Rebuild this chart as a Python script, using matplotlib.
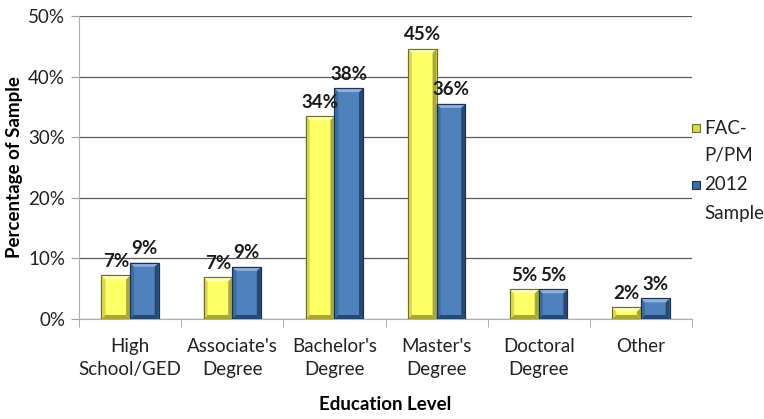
import matplotlib
matplotlib.use("Agg")
import matplotlib.pyplot as plt
from matplotlib.patches import Polygon, Rectangle
import numpy as np

plt.rcParams["font.family"] = ["Lato", "DejaVu Sans"]

categories = ["High\nSchool/GED", "Associate's\nDegree", "Bachelor's\nDegree",
              "Master's\nDegree", "Doctoral\nDegree", "Other"]
series_names = [["FAC-", "P/PM"], ["2012", "Sample"]]
fac_values = [7.2, 6.9, 33.5, 44.6, 4.9, 1.9]
sample_values = [9.3, 8.6, 38.1, 35.5, 4.9, 3.4]
y_ticks = [0, 10, 20, 30, 40, 50]

styles = [
    dict(face="#FFFF66", light="#FFFFB0", side="#D9D94A", dark="#A8A838", edge="#6E6E2A"),
    dict(face="#4F81BD", light="#8DB0DC", side="#3C6AA2", dark="#27496F", edge="#1C3350"),
]
FS = 13.5

fig = plt.figure(figsize=(7.64, 4.19), dpi=100)
ax = fig.add_axes([0.1034, 0.2387, 0.8024, 0.7231])

x = np.arange(len(categories))
bw = 0.28
ax.set_xlim(-0.5, len(categories) - 0.5)
ax.set_ylim(0, 50)

fig.canvas.draw()
bbox = ax.get_window_extent()
px_x = bbox.width / len(categories)
px_y = bbox.height / 50.0
bev = 4.0
bx, by = bev / px_x, bev / px_y

for i, (vals, st) in enumerate(zip([fac_values, sample_values], styles)):
    bars = ax.bar(x + (i - 0.5) * bw, vals, bw, color=st["face"],
                  edgecolor=st["edge"], linewidth=0.8, zorder=3)
    for b in bars:
        x0, y0, w, h = b.get_x(), b.get_y(), b.get_width(), b.get_height()
        x1, y1 = x0 + w, y0 + h
        tb = min(by, h / 2)
        polys = [
            ([(x0, y0), (x0 + bx, y0 + tb), (x0 + bx, y1 - tb), (x0, y1)], st["side"]),
            ([(x1, y0), (x1 - bx, y0 + tb), (x1 - bx, y1 - tb), (x1, y1)], st["dark"]),
            ([(x0, y1), (x0 + bx, y1 - tb), (x1 - bx, y1 - tb), (x1, y1)], st["light"]),
            ([(x0, y0), (x0 + bx, y0 + tb), (x1 - bx, y0 + tb), (x1, y0)], st["dark"]),
        ]
        for pts, c in polys:
            ax.add_patch(Polygon(pts, closed=True, facecolor=c, edgecolor="none", zorder=4))
        ax.add_patch(Rectangle((x0, y0), w, h, fill=False, edgecolor=st["edge"],
                               linewidth=0.8, zorder=5))
        ax.text(x0 + w / 2, y1 + 0.9, f"{h:.0f}%", ha="center", va="bottom",
                fontsize=FS, fontweight="bold", color="#1a1a1a", zorder=6)

ax.set_yticks(y_ticks)
ax.set_yticklabels([f"{t}%" for t in y_ticks], fontsize=FS, color="#222222")
ax.yaxis.grid(True, color="#5a5a5a", linewidth=0.9, zorder=0)
ax.set_axisbelow(True)

ax.set_xticks(x)
ax.set_xticklabels(categories, fontsize=FS, color="#222222", linespacing=1.4)
ax.set_xticks(np.arange(len(categories) + 1) - 0.5, minor=True)
ax.tick_params(axis="x", which="major", length=0, pad=14)
ax.tick_params(axis="x", which="minor", length=6, color="#a0a0a0")
ax.tick_params(axis="y", length=6, color="#a0a0a0", pad=4)

for s in ["top", "right"]:
    ax.spines[s].set_visible(False)
ax.spines["left"].set_color("#b0b0b0")
ax.spines["bottom"].set_color("#b0b0b0")

ax.set_xlabel("Education Level", fontsize=FS, fontweight="bold", labelpad=13)
ax.set_ylabel("Percentage of Sample", fontsize=FS, fontweight="bold", labelpad=4)

# legend drawn as two-line entries with a small swatch beside the first line
W, H = 764.0, 419.0
for (line1, line2), st, yc in zip(series_names, styles, [128, 185]):
    fig.patches.append(Rectangle((692 / W, 1 - (yc + 4) / H), 8 / W, 8 / H,
                                 transform=fig.transFigure, facecolor=st["side"],
                                 edgecolor=st["edge"], linewidth=0.8))
    fig.text(704 / W, 1 - yc / H, line1, fontsize=FS, va="center", ha="left", color="#222222")
    fig.text(704 / W, 1 - (yc + 28) / H, line2, fontsize=FS, va="center", ha="left", color="#222222")

fig.savefig("out.png", dpi=100)
